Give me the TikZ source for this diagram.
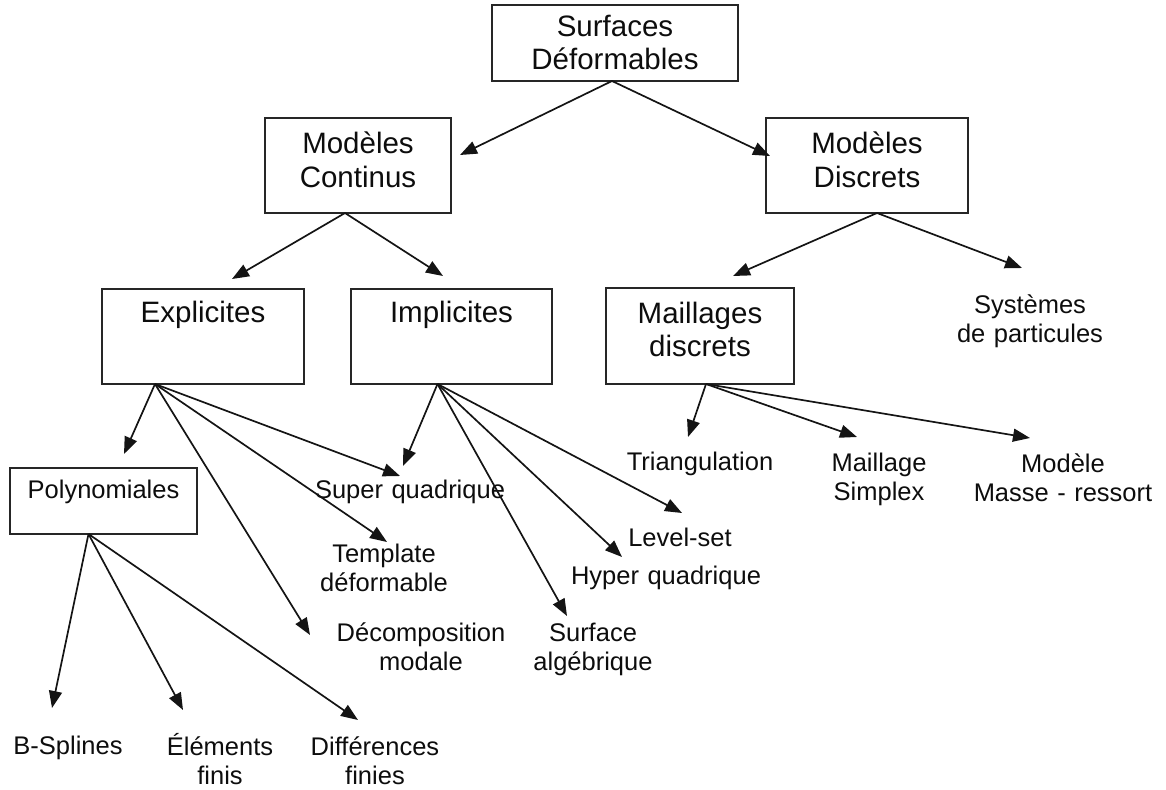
\documentclass[tikz,border=0pt]{standalone}
\usepackage{fontspec}
\setmainfont{Liberation Sans}
\usetikzlibrary{arrows.meta}
\begin{document}
\begin{tikzpicture}[x=1pt,y=-1pt,
  every node/.style={inner sep=0pt, outer sep=0pt, text=black!95},
  box/.style={draw=black!85, line width=1.4pt, align=center, anchor=north west},
  big/.style={font=\fontsize{29.5}{33.5}\selectfont},
  small/.style={font=\fontsize{25.5}{29}\selectfont},
  lbl/.style={small, text width=230pt, align=center, anchor=base},
  arr/.style={draw=black!92, line width=1.7pt, -{Triangle[length=17pt,width=13pt]}},
]
\useasboundingbox (0,0) rectangle (1166,789);

% boxed categories (text width = box width, height/depth measured from first baseline)
\node[box, big, text width=246pt, text height=31.5pt, text depth=44.5pt] (surf) at (492,5) {Surfaces\\Déformables};
\node[box, big, text width=186pt, text height=35.5pt, text depth=59.5pt] (cont) at (265,118) {Modèles\\Continus};
\node[box, big, text width=202pt, text height=35.5pt, text depth=59.5pt] (disc) at (766,118) {Modèles\\Discrets};
\node[box, big, text width=202pt, text height=33pt, text depth=62pt] (expl) at (102,289) {Explicites};
\node[box, big, text width=201pt, text height=33pt, text depth=62pt] (impl) at (351,289) {Implicites};
\node[box, big, text width=188pt, text height=35pt, text depth=61pt] (mail) at (606,288) {Maillages\\discrets};
\node[box, small, text width=187pt, text height=30.5pt, text depth=35.5pt] (poly) at (10,468) {Polynomiales};

% free labels, placed by the baseline of their first line
\node[lbl] (sys)   at (1030,313) {Systèmes\\de particules};
\node[lbl] (tri)   at (700,470)  {Triangulation};
\node[lbl] (simp)  at (879,471)  {Maillage\\Simplex};
\node[lbl] (mass)  at (1063,472) {Modèle\\Masse - ressort};
\node[lbl] (squad) at (410,498)  {Super quadrique};
\node[lbl] (tmpl)  at (384,562)  {Template\\déformable};
\node[lbl] (lvl)   at (680,546)  {Level-set};
\node[lbl] (hyp)   at (666,584)  {Hyper quadrique};
\node[lbl] (deco)  at (421,641)  {Décomposition\\modale};
\node[lbl] (surfa) at (593,641)  {Surface\\algébrique};
\node[lbl] (bspl)  at (68,754)   {B-Splines};
\node[lbl] (elem)  at (220,755)  {Éléments\\finis};
\node[lbl] (diff)  at (375,755)  {Différences\\finies};

% arrow tips
\coordinate (t-cont)  at (460,155);
\coordinate (t-disc)  at (770,156);
\coordinate (t-expl)  at (232,279);
\coordinate (t-impl)  at (443,276);
\coordinate (t-mail)  at (733,276);
\coordinate (t-sys)   at (1022,268);
\coordinate (t-poly)  at (124,454);
\coordinate (t-sq1)   at (400,476);
\coordinate (t-tmpl)  at (387,542);
\coordinate (t-deco)  at (310,635);
\coordinate (t-sq2)   at (403,466);
\coordinate (t-surfa) at (567,616);
\coordinate (t-hyp)   at (622,557);
\coordinate (t-lvl)   at (682,513);
\coordinate (t-tri)   at (688,437);
\coordinate (t-simp)  at (857,437);
\coordinate (t-mass)  at (1030,438);
\coordinate (t-bspl)  at (52,708);
\coordinate (t-elem)  at (183,710);
\coordinate (t-diff)  at (358,720);

% connectors
\draw[arr] ([xshift=-3pt]surf.south) -- (t-cont);
\draw[arr] ([xshift=-3pt]surf.south) -- (t-disc);
\draw[arr] ([xshift=-13pt]cont.south) -- (t-expl);
\draw[arr] ([xshift=-13pt]cont.south) -- (t-impl);
\draw[arr] ([xshift=10pt]disc.south) -- (t-mail);
\draw[arr] ([xshift=10pt]disc.south) -- (t-sys);
\draw[arr] ([xshift=-48pt]expl.south) -- (t-poly);
\draw[arr] ([xshift=-48pt]expl.south) -- (t-sq1);
\draw[arr] ([xshift=-48pt]expl.south) -- (t-tmpl);
\draw[arr] ([xshift=-48pt]expl.south) -- (t-deco);
\draw[arr] ([xshift=-14pt]impl.south) -- (t-sq2);
\draw[arr] ([xshift=-14pt]impl.south) -- (t-surfa);
\draw[arr] ([xshift=-14pt]impl.south) -- (t-hyp);
\draw[arr] ([xshift=-14pt]impl.south) -- (t-lvl);
\draw[arr] ([xshift=6pt]mail.south) -- (t-tri);
\draw[arr] ([xshift=6pt]mail.south) -- (t-simp);
\draw[arr] ([xshift=6pt]mail.south) -- (t-mass);
\draw[arr] ([xshift=-15pt]poly.south) -- (t-bspl);
\draw[arr] ([xshift=-15pt]poly.south) -- (t-elem);
\draw[arr] ([xshift=-15pt]poly.south) -- (t-diff);
\end{tikzpicture}
\end{document}
